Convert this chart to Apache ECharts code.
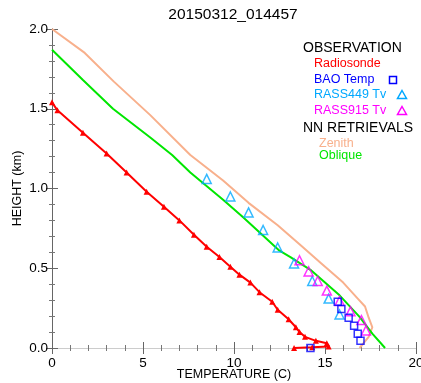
<!DOCTYPE html>
<html>
<head>
<meta charset="utf-8">
<script src="https://cdn.jsdelivr.net/npm/echarts@6/dist/echarts.min.js"></script>
<style>
  html, body { margin: 0; padding: 0; background: #fff; }
  #chart { width: 421px; height: 383px; }
</style>
</head>
<body>
<div id="chart"></div>
<script>
const titleText = '20150312_014457';

// Radiosonde profile (temperature C, height km)
const radioT = [0, 0.3, 1.7, 3.0, 4.1, 5.2, 6.15, 7.0, 7.8, 8.5, 9.2, 9.8, 10.3, 10.9, 11.4, 12.1, 12.4, 13.0, 13.4, 13.6, 13.9, 14.5, 15.1, 15.2, 14.3, 13.3];
const radioH = [1.54, 1.49, 1.35, 1.22, 1.10, 0.98, 0.885, 0.80, 0.71, 0.635, 0.57, 0.51, 0.46, 0.41, 0.35, 0.29, 0.24, 0.18, 0.13, 0.10, 0.07, 0.045, 0.03, 0.01, 0.005, 0.0];

// BAO tower temps
const baoT = [15.7, 15.9, 16.3, 16.6, 16.8, 16.95, 14.2];
const baoH = [0.29, 0.245, 0.19, 0.14, 0.09, 0.045, 0.0];

// RASS 449 MHz virtual temps
const rass449T = [8.5, 9.8, 10.8, 11.6, 12.4, 13.3, 14.3, 15.2, 15.8];
const rass449H = [1.06, 0.95, 0.85, 0.74, 0.63, 0.53, 0.42, 0.31, 0.21];

// RASS 915 MHz virtual temps
const rass915T = [13.6, 14.1, 14.6, 15.1, 15.8, 16.4, 17.0, 17.25];
const rass915H = [0.55, 0.48, 0.42, 0.36, 0.295, 0.23, 0.175, 0.11];

// NN retrievals
const zenithT = [0, 1.8, 3.4, 5.4, 7.6, 9.4, 10.8, 12.4, 13.6, 14.8, 16.0, 16.8, 17.2, 17.4, 17.6, 17.4, 16.9];
const zenithH = [2.0, 1.85, 1.67, 1.46, 1.21, 1.05, 0.91, 0.77, 0.65, 0.53, 0.41, 0.31, 0.26, 0.19, 0.13, 0.07, 0.0];
const obliqueT = [0, 1.7, 3.35, 5.4, 6.6, 7.6, 9.4, 10.5, 12.5, 13.1, 14.2, 15.8, 16.9, 17.6, 18.3];
const obliqueH = [1.87, 1.68, 1.50, 1.32, 1.21, 1.10, 0.93, 0.82, 0.61, 0.57, 0.49, 0.33, 0.195, 0.09, 0.0];

const FONT = '"Liberation Sans", Arial, sans-serif';
const colors = {
  radio: '#ff0000',
  bao: '#0000ff',
  rass449: '#00a8ff',
  rass915: '#ff00ff',
  zenith: '#f8b08c',
  oblique: '#00e600'
};

const pairs = (xs, ys) => xs.map((x, i) => [x, ys[i]]);

const chart = echarts.init(document.getElementById('chart'), null, { renderer: 'canvas' });

const axisCommon = {
  axisTick: { show: true, inside: true, length: 6, lineStyle: { color: '#666' } },
  minorTick: { show: true, splitNumber: 5, length: 3, lineStyle: { color: '#777' } },
  splitLine: { show: false },
  minorSplitLine: { show: false }
};

const legendRows = [
  { text: 'OBSERVATION', x: 303, y: 48, color: '#000', size: 14 },
  { text: 'Radiosonde', x: 314, y: 64, color: colors.radio, size: 12.5 },
  { text: 'BAO Temp', x: 314, y: 80, color: colors.bao, size: 12.5 },
  { text: 'RASS449 Tv', x: 314, y: 95, color: colors.rass449, size: 12.5 },
  { text: 'RASS915 Tv', x: 314, y: 111, color: colors.rass915, size: 12.5 },
  { text: 'NN RETRIEVALS', x: 303, y: 128, color: '#000', size: 14 },
  { text: 'Zenith', x: 319, y: 144, color: colors.zenith, size: 12.5 },
  { text: 'Oblique', x: 319, y: 156, color: colors.oblique, size: 12.5 }
];

const graphics = legendRows.map(r => ({
  type: 'text',
  z: 10,
  style: {
    text: r.text, x: r.x, y: r.y, fill: r.color,
    font: r.size + 'px ' + FONT,
    textAlign: 'left', textVerticalAlign: 'middle'
  }
}));

graphics.push({
  type: 'text',
  style: {
    text: titleText, x: 233, y: 15, fill: '#000',
    font: '15.5px ' + FONT, textAlign: 'center', textVerticalAlign: 'middle'
  }
});

// legend glyphs
graphics.push({
  type: 'rect', z: 10,
  shape: { x: 389.5, y: 76.5, width: 7, height: 7 },
  style: { fill: 'none', stroke: colors.bao, lineWidth: 1.5 }
});
[[95, colors.rass449], [111, colors.rass915]].forEach(([cy, c]) => {
  graphics.push({
    type: 'polygon', z: 10,
    shape: { points: [[402, cy - 4.5], [406.5, cy + 3.5], [397.5, cy + 3.5]] },
    style: { fill: 'none', stroke: c, lineWidth: 1.5 }
  });
});

const hollow = (name, sym, size, color, data) => ({
  name, type: 'scatter', symbol: sym, symbolSize: size,
  itemStyle: { color: 'transparent', borderColor: color, borderWidth: 1.5 },
  data, z: 4, clip: false
});

chart.setOption({
  animation: false,
  grid: { left: 52, top: 29, right: 5, bottom: 35, containLabel: false, outerBoundsMode: 'none' },
  graphic: graphics,
  xAxis: [
    Object.assign({}, axisCommon, {
      type: 'value', min: 0, max: 20, interval: 5,
      name: 'TEMPERATURE (C)', nameLocation: 'middle', nameGap: 20, nameMoveOverlap: false,
      nameTextStyle: { fontFamily: FONT, fontSize: 12.5, color: '#000' },
      axisLine: { show: true, lineStyle: { color: '#aaa', width: 1 } },
      axisLabel: { fontFamily: FONT, fontSize: 13.5, color: '#000', margin: 8 }
    }),
    Object.assign({}, axisCommon, {
      type: 'value', min: 0, max: 20, interval: 5, position: 'top',
      axisLine: { show: true, lineStyle: { color: '#ccc', width: 1 } },
      axisLabel: { show: false }
    })
  ],
  yAxis: [
    Object.assign({}, axisCommon, {
      type: 'value', min: 0, max: 2, interval: 0.5,
      name: 'HEIGHT (km)', nameLocation: 'middle', nameGap: 28, nameRotate: 90, nameMoveOverlap: false,
      nameTextStyle: { fontFamily: FONT, fontSize: 12.5, color: '#000' },
      axisLine: { show: true, lineStyle: { color: '#777', width: 1 } },
      axisLabel: { fontFamily: FONT, fontSize: 13.5, color: '#000', margin: 4,
        formatter: v => v.toFixed(1) }
    }),
    Object.assign({}, axisCommon, {
      type: 'value', min: 0, max: 2, interval: 0.5, position: 'right',
      axisLine: { show: true, lineStyle: { color: '#666', width: 1 } },
      axisLabel: { show: false }
    })
  ],
  series: [
    {
      name: 'Zenith', type: 'line', data: pairs(zenithT, zenithH),
      showSymbol: false, lineStyle: { color: colors.zenith, width: 2 }, z: 2
    },
    {
      name: 'Oblique', type: 'line', data: pairs(obliqueT, obliqueH),
      showSymbol: false, lineStyle: { color: colors.oblique, width: 2 }, z: 3
    },
    {
      name: 'Radiosonde', type: 'line', data: pairs(radioT, radioH),
      symbol: 'triangle', symbolSize: 6, showAllSymbol: true,
      itemStyle: { color: colors.radio },
      lineStyle: { color: colors.radio, width: 2 }, z: 3
    },
    hollow('RASS449 Tv', 'triangle', 9, colors.rass449, pairs(rass449T, rass449H)),
    hollow('RASS915 Tv', 'triangle', 9, colors.rass915, pairs(rass915T, rass915H)),
    hollow('BAO Temp', 'rect', 7, colors.bao, pairs(baoT, baoH))
  ]
});
</script>
</body>
</html>
